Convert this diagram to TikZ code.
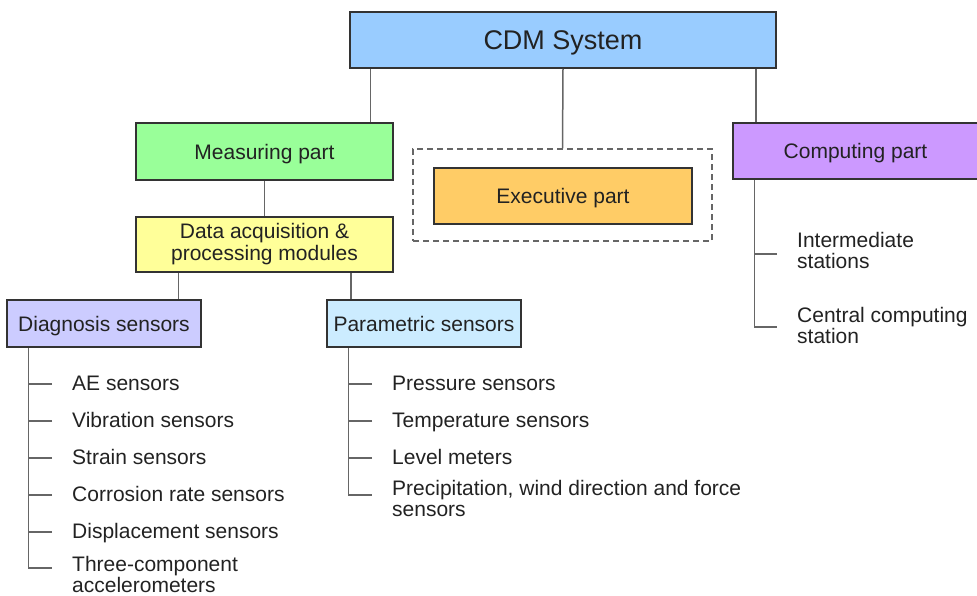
\documentclass[tikz,border=0pt]{standalone}
\usepackage{fontspec}
\setmainfont{Liberation Sans}
\definecolor{cdmblue}{HTML}{99CCFF}
\definecolor{measgreen}{HTML}{99FF99}
\definecolor{datayellow}{HTML}{FFFF99}
\definecolor{execorange}{HTML}{FFCC66}
\definecolor{comppurple}{HTML}{CC99FF}
\definecolor{diaglilac}{HTML}{CCCCFF}
\definecolor{paramcyan}{HTML}{CCECFF}
\definecolor{boxline}{HTML}{333333}
\definecolor{linkgray}{HTML}{666666}
\definecolor{textgray}{HTML}{222222}
\newcommand\boxfont{\fontsize{21}{22}\selectfont}
\newcommand\leaffont{\fontsize{21}{21}\selectfont}
\tikzset{
  part/.style={draw=boxline,line width=1.5pt,text=textgray,font=\boxfont,align=center,inner sep=0pt,text depth=0pt},
  link/.style={draw=linkgray,line width=1.5pt},
  leaf/.style={anchor=base west,inner sep=0pt,align=left,text=textgray,font=\leaffont},
}
\begin{document}
\begin{tikzpicture}[x=1pt,y=-1pt]
  \useasboundingbox (0,0) rectangle (977,595);
  % boxes
  \node[part,fill=cdmblue,minimum width=426pt,minimum height=56pt,font=\fontsize{27}{30}\selectfont] (cdm) at (563,40) {CDM System};
  \node[part,fill=measgreen,minimum width=257pt,minimum height=57pt] (meas) at (264.5,151.5) {Measuring part};
  \node[part,fill=datayellow,minimum width=257pt,minimum height=55pt,text depth=5pt] (data) at (264.5,244.5) {Data acquisition \&\\processing modules};
  \node[draw=linkgray,line width=1.5pt,dash pattern=on 6pt off 4pt,minimum width=299pt,minimum height=92pt] (execframe) at (562.5,195) {};
  \node[part,fill=execorange,minimum width=258pt,minimum height=56pt] (exec) at (563,196) {Executive part};
  \node[part,fill=comppurple,minimum width=245pt,minimum height=56pt] (comp) at (855.5,151) {Computing part};
  \node[part,fill=diaglilac,minimum width=194pt,minimum height=47pt] (diag) at (104,323.5) {Diagnosis sensors};
  \node[part,fill=paramcyan,minimum width=194pt,minimum height=47pt] (param) at (424,323.5) {Parametric sensors};
  % lists (multi-line leaves sit on their last baseline)
  \node[leaf] (d1) at (72,390) {AE sensors};
  \node[leaf] (d2) at (72,427) {Vibration sensors};
  \node[leaf] (d3) at (72,464) {Strain sensors};
  \node[leaf] (d4) at (72,501) {Corrosion rate sensors};
  \node[leaf] (d5) at (72,538) {Displacement sensors};
  \node[leaf] (d6) at (72,592) {Three-component\\accelerometers};
  \node[leaf] (p1) at (392,390) {Pressure sensors};
  \node[leaf] (p2) at (392,427) {Temperature sensors};
  \node[leaf] (p3) at (392,464) {Level meters};
  \node[leaf] (p4) at (392,516) {Precipitation, wind direction and force\\sensors};
  \node[leaf] (c1) at (797,268.5) {Intermediate\\stations};
  \node[leaf] (c2) at (797,343) {Central computing\\station};
  % connectors
  \draw[link] ([xshift=21pt]cdm.south west) -- ([xshift=21pt]cdm.south west |- meas.north);
  \draw[link] (cdm.south) -- (execframe.north);
  \draw[link] ([xshift=-21pt]cdm.south east) -- ([xshift=-21pt]cdm.south east |- comp.north);
  \draw[link] (meas.south) -- (data.north);
  \draw[link] ([xshift=43pt]data.south west) -- ([xshift=43pt]data.south west |- diag.north);
  \draw[link] ([xshift=-43pt]data.south east) -- ([xshift=-43pt]data.south east |- param.north);
  \coordinate (dtop) at ([xshift=22pt]diag.south west);
  \coordinate (ptop) at ([xshift=22pt]param.south west);
  \coordinate (ctop) at ([xshift=22pt]comp.south west);
  \foreach \n in {1,...,5} {
    \coordinate (t) at ([xshift=-20pt,yshift=6pt]d\n.base west);
    \draw[link] (t) -- (t -| dtop);
  }
  \draw[link] (dtop) |- ([xshift=-20pt,yshift=24pt]d6.base west);
  \foreach \n in {1,...,3} {
    \coordinate (t) at ([xshift=-20pt,yshift=6pt]p\n.base west);
    \draw[link] (t) -- (t -| ptop);
  }
  \draw[link] (ptop) |- ([xshift=-20pt,yshift=21pt]p4.base west);
  \coordinate (t) at ([xshift=-20pt,yshift=14.5pt]c1.base west);
  \draw[link] (t) -- (t -| ctop);
  \draw[link] (ctop) |- ([xshift=-20pt,yshift=16pt]c2.base west);
\end{tikzpicture}
\end{document}
